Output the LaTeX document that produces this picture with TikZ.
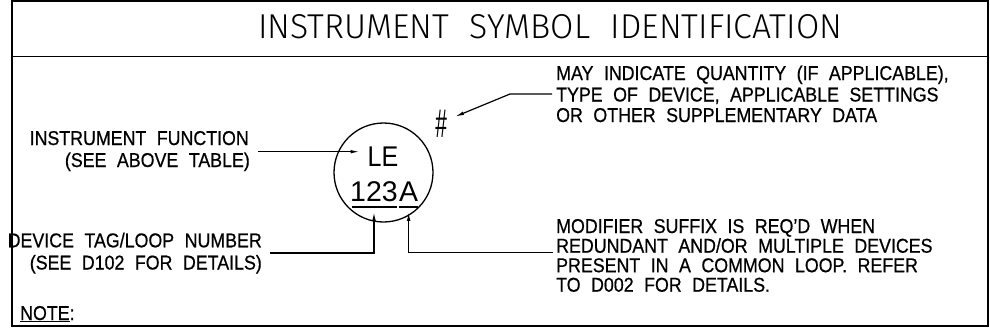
\documentclass[tikz,border=0pt]{standalone}
\usepackage{fontspec}
\setmainfont[FakeStretch=0.89,FakeBold=0.6]{Liberation Sans}
\newfontfamily\titlefont[WordSpace=2.2]{Fira Sans Light}
\newfontfamily\numfont{Liberation Sans}
\newcommand\lblfont{\fontsize{20}{21}\selectfont\spaceskip=10.5pt\relax}
\usetikzlibrary{arrows.meta}
\tikzset{
  frame/.style={line width=1.8pt},
  leader/.style={line width=1.2pt},
  arr/.style={leader,-{Latex[length=9pt,width=3.6pt]}},
  lbl/.style={inner sep=0pt,font=\lblfont},
  big/.style={inner sep=0pt,font=\numfont\fontsize{28.5}{30}\selectfont}
}
\begin{document}
\begin{tikzpicture}[x=1pt,y=-1pt]
\useasboundingbox (0,0) rectangle (990,332);
% frame
\draw[frame] (12,1) rectangle (988,326);
\draw[frame] (12,56.5) -- (988,56.5);
% title
\node[inner sep=0pt,anchor=base west] (title) at (258,38)
  {\resizebox{584pt}{24pt}{\titlefont INSTRUMENT SYMBOL IDENTIFICATION}};
% bubble
\node[circle,draw,line width=1.3pt,minimum size=99pt,inner sep=0pt] (bubble) at (383.5,172.5) {};
\node[big,anchor=base west] (le) at (367.5,166) {\scalebox{0.88}[1]{LE}};
\node[big,anchor=base west,text depth=5pt] (num) at (350,201.7) {123};
\node[big,anchor=base west,text depth=5pt] (suf) at ([xshift=1pt]num.base east) {A};
\draw[leader] ([xshift=2pt]num.south west) -- ([xshift=-1pt]num.south east);
\draw[leader] (suf.south west) -- (suf.south east);
% hash
\node[inner sep=0pt,anchor=base] (hash) at (441,137)
  {\numfont\fontsize{40}{40}\selectfont\scalebox{0.52}[1]{\itshape\#}};
% left labels
\node[lbl,anchor=base east] (f1) at (249,145) {INSTRUMENT FUNCTION};
\node[lbl,anchor=base east] (f2) at (250,167) {(SEE ABOVE TABLE)};
\node[lbl,anchor=base east] (d1) at (262,247.3) {DEVICE TAG/LOOP NUMBER};
\node[lbl,anchor=base east] (d2) at (262,269.5) {(SEE D102 FOR DETAILS)};
\node[lbl,anchor=base west] (note) at (20,320) {\underline{NOTE}:};
% right labels
\node[lbl,anchor=base west] (q1) at (556,80) {MAY INDICATE QUANTITY (IF APPLICABLE),};
\node[lbl,anchor=base west] (q2) at (556,101.5) {TYPE OF DEVICE, APPLICABLE SETTINGS};
\node[lbl,anchor=base west] (q3) at (556,122) {OR OTHER SUPPLEMENTARY DATA};
\node[lbl,anchor=base west] (m1) at (556,233) {MODIFIER SUFFIX IS REQ'D WHEN};
\node[lbl,anchor=base west] (m2) at (556,252.7) {REDUNDANT AND/OR MULTIPLE DEVICES};
\node[lbl,anchor=base west] (m3) at (556,272.2) {PRESENT IN A COMMON LOOP. REFER};
\node[lbl,anchor=base west] (m4) at (556,291.7) {TO D002 FOR DETAILS.};
% connectors
\coordinate (fs) at ([xshift=9pt,yshift=-6.7pt]f1.base east);
\draw[arr] (fs) -- ([xshift=-8pt]fs -| le.west);
\coordinate (qs) at ([xshift=-4pt,yshift=7.5pt]q2.base west);
\coordinate (qk) at (510,94);
\coordinate (htip) at (455,116.7);
\draw[arr] (qs) -- (qk) -- (htip);
\coordinate (ds) at ([xshift=8pt,yshift=-5.7pt]d1.base east);
\draw[arr,shorten >=5pt] (ds) -- (ds -| num.south) -- (num.south);
\coordinate (ms) at ([xshift=-3pt]m2.base west);
\draw[arr,shorten >=5pt] (ms) -- (ms -| suf.south) -- (suf.south);
\end{tikzpicture}
\end{document}
